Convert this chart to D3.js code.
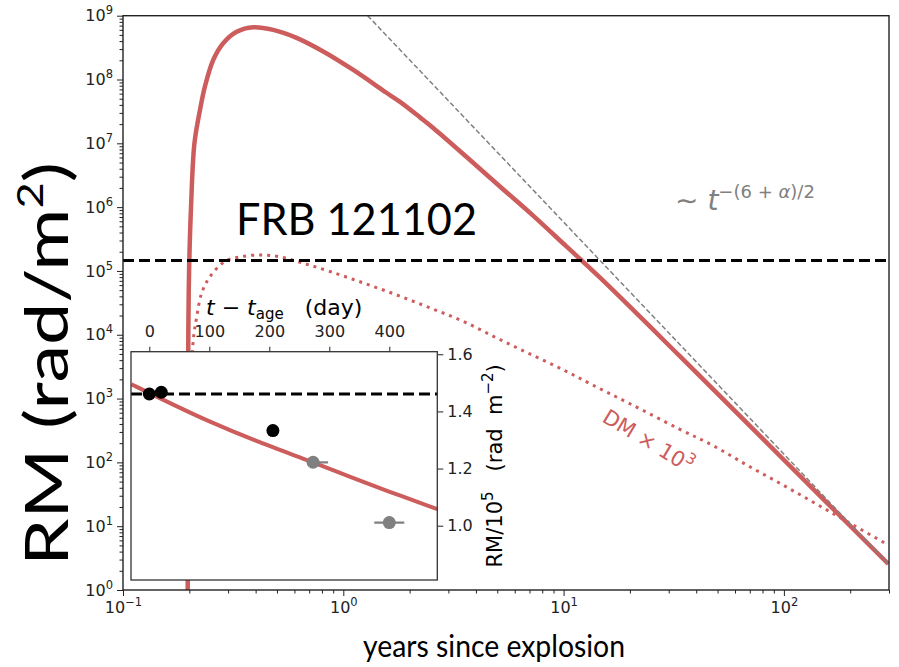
<!DOCTYPE html>
<html><head><meta charset="utf-8">
<script src="https://cdn.jsdelivr.net/npm/d3@7"></script>
<style>body{margin:0;background:#fff}svg{display:block}</style>
</head><body>
<svg id="c" width="899" height="667"></svg>
<script>
// ---------------- data ----------------
// main panel: RM model (rad/m^2) vs years since explosion
const rmYears  = [0.1966, 0.1972, 0.1979, 0.1995, 0.2036, 0.211, 0.2235, 0.2355, 0.257, 0.285, 0.328, 0.391, 0.481, 0.614, 0.811, 1.11, 1.57, 1.81, 2.23, 2.56, 3.63, 5.14, 7.29, 10.3, 14.6, 33.8, 96, 298];
const rmValues = [0.5, 100, 1e4, 1e5, 1e6, 1e7, 3.3e7, 7.8e7, 2.04e8, 3.7e8, 5.6e8, 6.6e8, 6.0e8, 4.5e8, 2.75e8, 1.41e8, 6.2e7, 4.46e7, 2.55e7, 1.74e7, 6.1e6, 2.11e6, 7.3e5, 2.42e5, 7.9e4, 4570, 126, 2.56];
// DM x 10^3 (dotted)
const dmYears  = [0.1972, 0.2005, 0.2085, 0.216, 0.2276, 0.248, 0.290, 0.340, 0.419, 0.516, 0.658, 0.871, 1.23, 1.75, 2.48, 3.51, 4.97, 7.03, 9.97, 13.6, 20.0, 33.7, 47.9, 67.8, 95.9, 136, 193, 298];
const dmValues = [0.5, 316, 8300, 1.9e4, 4.5e4, 8.1e4, 1.41e5, 1.66e5, 1.78e5, 1.66e5, 1.32e5, 9.8e4, 6.5e4, 4.2e4, 2.63e4, 1.62e4, 8900, 5000, 2820, 1620, 830, 330, 182, 91, 47, 23.7, 11.9, 5.07];
// asymptotic power law ~ t^-(6+alpha)/2 (gray dashed)
const slopeYears  = [1.29, 300];
const slopeValues = [1e9, 2.48];
// observed RM level (black dashed)
const rmObserved = 1.46e5;
// ticks
const xMajorTicks = [0.1, 1, 10, 100];
const xTickExponents = ["\u22121", "0", "1", "2"];
const yMajorTicks = [1, 10, 100, 1e3, 1e4, 1e5, 1e6, 1e7, 1e8, 1e9];
const yTickExponents = ["0", "1", "2", "3", "4", "5", "6", "7", "8", "9"];

// inset: RM/10^5 vs t - t_age (day)
const insetDays  = [-30, 34.5, 100, 173, 273, 340, 396, 480];
const insetModel = [1.495, 1.429, 1.364, 1.300, 1.222, 1.167, 1.122, 1.058];
const insetObserved = 1.461;
const obsDays = [0, 20, 206];
const obsRM   = [1.461, 1.467, 1.333];
const lateDays  = [273, 400];
const lateRM    = [1.222, 1.011];
const lateErrLo = [3, 25];
const lateErrHi = [25, 25];
const insetDayTicks = [0, 100, 200, 300, 400];
const insetRMTicks  = [1.0, 1.2, 1.4, 1.6];

// ---------------- layout ----------------
const RED = "#CD5C5C", GRAY = "#808080";
const L = 123, R = 889, T = 15.7, B = 590;
const IL = 131, IR = 437.3, IT = 351.7, IB = 580;

const svg = d3.select("#c");
svg.append("rect").attr("width", 899).attr("height", 667).attr("fill", "#fff");
const defs = svg.append("defs");
defs.append("clipPath").attr("id", "mainClip").append("rect")
  .attr("x", L).attr("y", T).attr("width", R - L).attr("height", B - T);
defs.append("clipPath").attr("id", "insetClip").append("rect")
  .attr("x", IL).attr("y", IT).attr("width", IR - IL).attr("height", IB - IT);

const x = d3.scaleLog().domain([0.1, 300]).range([L, R]);
const y = d3.scaleLog().domain([1, 1e9]).range([B, T]);

const line = d3.line().x(d => x(d[0])).y(d => y(d[1])).curve(d3.curveCatmullRom.alpha(0.5));
const plot = svg.append("g").attr("clip-path", "url(#mainClip)");

plot.append("path").datum(rmYears.map((t, i) => [t, rmValues[i]]))
  .attr("d", line).attr("fill", "none").attr("stroke", RED).attr("stroke-width", 4.5);
plot.append("path").datum(dmYears.map((t, i) => [t, dmValues[i]]))
  .attr("d", line).attr("fill", "none").attr("stroke", RED).attr("stroke-width", 3)
  .attr("stroke-dasharray", "3,5");
plot.append("path").datum(slopeYears.map((t, i) => [t, slopeValues[i]]))
  .attr("d", d3.line().x(d => x(d[0])).y(d => y(d[1])))
  .attr("fill", "none").attr("stroke", GRAY).attr("stroke-width", 1.5)
  .attr("stroke-dasharray", "5,2.5");
plot.append("line").attr("x1", L).attr("x2", R).attr("y1", y(rmObserved)).attr("y2", y(rmObserved))
  .attr("stroke", "#000").attr("stroke-width", 3).attr("stroke-dasharray", "11,5");

// axes
const font = "'DejaVu Sans', sans-serif";
function supLabels(g, exps) {
  g.selectAll(".tick text").each(function(d, i) {
    const t = d3.select(this).text(null).attr("font-family", font).attr("font-size", 16).attr("fill", "#222");
    t.append("tspan").text("10");
    t.append("tspan").attr("dy", -7).attr("font-size", 11.5).text(exps[i]);
  });
}
const gx = svg.append("g").attr("transform", `translate(0,${B})`)
  .call(d3.axisBottom(x).tickValues(xMajorTicks).tickSize(6).tickPadding(6).tickFormat(() => ""));
gx.select(".domain").remove();
supLabels(gx, xTickExponents);
const xMinor = [];
[0.1, 1, 10, 100].forEach(dec => { for (let k = 2; k <= 9; k++) { const v = dec * k; if (v <= 300) xMinor.push(v); } });
const gxm = svg.append("g").attr("transform", `translate(0,${B})`)
  .call(d3.axisBottom(x).tickValues(xMinor).tickSize(3.5).tickFormat(() => ""));
gxm.select(".domain").remove();

const gy = svg.append("g").attr("transform", `translate(${L},0)`)
  .call(d3.axisLeft(y).tickValues(yMajorTicks).tickSize(6).tickPadding(4).tickFormat(() => ""));
gy.select(".domain").remove();
supLabels(gy, yTickExponents);
const yMinor = [];
yMajorTicks.slice(0, -1).forEach(dec => { for (let k = 2; k <= 9; k++) yMinor.push(dec * k); });
const gym = svg.append("g").attr("transform", `translate(${L},0)`)
  .call(d3.axisLeft(y).tickValues(yMinor).tickSize(3.5).tickFormat(() => ""));
gym.select(".domain").remove();
svg.selectAll(".tick line").attr("stroke", "#222").attr("stroke-width", 1);

svg.append("rect").attr("x", L).attr("y", T).attr("width", R - L).attr("height", B - T)
  .attr("fill", "none").attr("stroke", "#222").attr("stroke-width", 1.4);

// annotations
svg.append("text").attr("x", 236).attr("y", 235).attr("font-family", "Lato, sans-serif")
  .attr("font-size", 44).attr("textLength", 241).attr("lengthAdjust", "spacingAndGlyphs")
  .attr("fill", "#000").text("FRB 121102");

const pl = svg.append("text").attr("x", 675).attr("y", 210).attr("font-family", font)
  .attr("font-size", 28).attr("fill", GRAY);
pl.append("tspan").text("\u223C ");
pl.append("tspan").attr("font-style", "italic").text("t");
pl.append("tspan").attr("font-size", 18).attr("dy", -12).text("\u2212(6 + ");
pl.append("tspan").attr("font-size", 18).attr("font-style", "italic").text("\u03B1");
pl.append("tspan").attr("font-size", 18).text(")/2");

const dm = svg.append("text").attr("transform", "translate(601,421) rotate(31)")
  .attr("font-family", font).attr("font-size", 21).attr("fill", RED);
dm.append("tspan").text("DM \u00D7 10");
dm.append("tspan").attr("font-size", 15).attr("dy", -9).text("3");

svg.append("text").attr("x", 494).attr("y", 657).attr("text-anchor", "middle")
  .attr("font-family", "Lato, sans-serif").attr("font-size", 30)
  .attr("textLength", 262).attr("lengthAdjust", "spacingAndGlyphs").text("years since explosion");

const yl = svg.append("text").attr("transform", "translate(68,364) rotate(-90)")
  .attr("text-anchor", "middle").attr("font-family", "Lato, sans-serif").attr("font-size", 60)
  .attr("textLength", 404).attr("lengthAdjust", "spacingAndGlyphs");
yl.append("tspan").text("RM (rad/m");
yl.append("tspan").attr("font-size", 36).attr("dy", -25).text("2");
yl.append("tspan").attr("dy", 25).text(")");

// ---------------- inset ----------------
const ix = d3.scaleLinear().domain([-30.5, 480]).range([IL, IR]);
const iy = d3.scaleLinear().domain([0.81, 1.609]).range([IB, IT]);
svg.append("rect").attr("x", IL).attr("y", IT).attr("width", IR - IL).attr("height", IB - IT)
  .attr("fill", "#fff");
const ins = svg.append("g").attr("clip-path", "url(#insetClip)");
ins.append("path").datum(insetDays.map((d, i) => [d, insetModel[i]]))
  .attr("d", d3.line().x(d => ix(d[0])).y(d => iy(d[1])).curve(d3.curveBasis))
  .attr("fill", "none").attr("stroke", RED).attr("stroke-width", 4);
ins.append("line").attr("x1", IL).attr("x2", IR).attr("y1", iy(insetObserved)).attr("y2", iy(insetObserved))
  .attr("stroke", "#000").attr("stroke-width", 3).attr("stroke-dasharray", "11,5");
lateDays.forEach((d, i) => {
  ins.append("line").attr("x1", ix(d - lateErrLo[i])).attr("x2", ix(d + lateErrHi[i]))
    .attr("y1", iy(lateRM[i])).attr("y2", iy(lateRM[i])).attr("stroke", GRAY).attr("stroke-width", 2.2);
});
ins.selectAll("circle.late").data(lateDays).enter().append("circle")
  .attr("cx", d => ix(d)).attr("cy", (d, i) => iy(lateRM[i])).attr("r", 6.5).attr("fill", GRAY);
ins.selectAll("circle.obs").data(obsDays).enter().append("circle")
  .attr("cx", d => ix(d)).attr("cy", (d, i) => iy(obsRM[i])).attr("r", 6.5).attr("fill", "#000");

const itx = svg.append("g").attr("transform", `translate(0,${IT})`)
  .call(d3.axisTop(ix).tickValues(insetDayTicks).tickSize(5).tickPadding(10).tickFormat(d3.format("d")));
itx.select(".domain").remove();
itx.selectAll("text").attr("font-family", font).attr("font-size", 16).attr("fill", "#222");
const ity = svg.append("g").attr("transform", `translate(${IR},0)`)
  .call(d3.axisRight(iy).tickValues(insetRMTicks).tickSize(6).tickPadding(4).tickFormat(d3.format(".1f")));
ity.select(".domain").remove();
ity.selectAll("text").attr("font-family", font).attr("font-size", 16).attr("fill", "#222");
svg.selectAll(".tick line").attr("stroke", "#222");
svg.append("rect").attr("x", IL).attr("y", IT).attr("width", IR - IL).attr("height", IB - IT)
  .attr("fill", "none").attr("stroke", "#333").attr("stroke-width", 1.3);

const tl = svg.append("text").attr("x", (IL + IR) / 2).attr("y", 315).attr("text-anchor", "middle")
  .attr("font-family", font).attr("font-size", 22).attr("fill", "#000");
tl.append("tspan").attr("font-style", "italic").text("t");
tl.append("tspan").text(" \u2212 ");
tl.append("tspan").attr("font-style", "italic").text("t");
tl.append("tspan").attr("font-size", 15).attr("dy", 4).text("age");
tl.append("tspan").attr("dy", -4).text("\u00A0\u00A0\u00A0(day)");

const rl = svg.append("text").attr("transform", `translate(502,${(IT + IB) / 2}) rotate(-90)`)
  .attr("text-anchor", "middle").attr("font-family", font).attr("font-size", 21).attr("fill", "#000");
rl.append("tspan").text("RM/10");
rl.append("tspan").attr("font-size", 15).attr("dy", -9).text("5");
rl.append("tspan").attr("dy", 9).text("\u00A0\u00A0\u00A0(rad\u00A0\u00A0m");
rl.append("tspan").attr("font-size", 15).attr("dy", -9).text("\u22122");
rl.append("tspan").attr("dy", 9).text(")");
</script>
</body></html>
